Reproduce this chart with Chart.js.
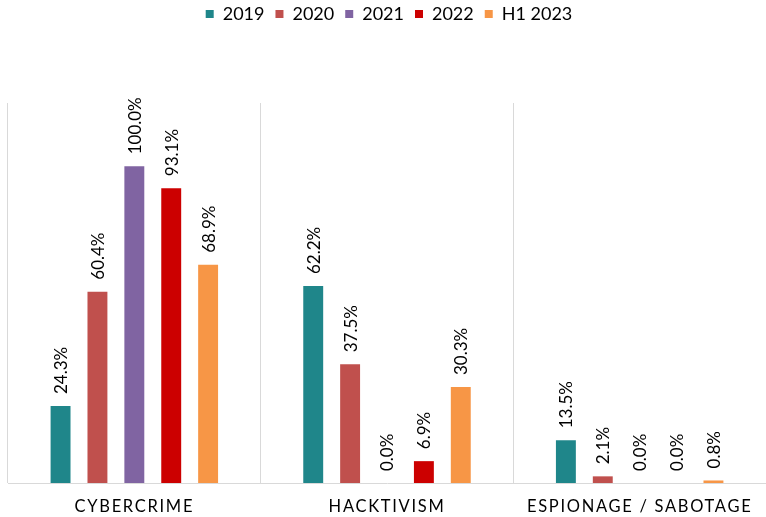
<!DOCTYPE html>
<html>
<head>
<meta charset="utf-8">
<script src="https://cdn.jsdelivr.net/npm/chart.js@4"></script>
<style>
  body { margin: 0; background: #fff; }
</style>
</head>
<body>
<canvas id="chart" width="766" height="517"></canvas>
<script>
const categories = ['CYBERCRIME', 'HACKTIVISM', 'ESPIONAGE / SABOTAGE'];
const seriesNames = ['2019', '2020', '2021', '2022', 'H1 2023'];
const values2019 = [24.3, 62.2, 13.5];
const values2020 = [60.4, 37.5, 2.1];
const values2021 = [100.0, 0.0, 0.0];
const values2022 = [93.1, 6.9, 0.0];
const valuesH12023 = [68.9, 30.3, 0.8];
const colors = ['#1f868a', '#c0504d', '#8064a2', '#cc0000', '#f79646'];

const allValues = [values2019, values2020, values2021, values2022, valuesH12023];
const FONT = 'Lato, "Open Sans", sans-serif';

// legend sits in a tall box so the plot starts lower
const legendSpace = {
  id: 'legendSpace',
  beforeInit(chart) {
    const fit = chart.legend.fit;
    chart.legend.fit = function () {
      fit.bind(chart.legend)();
      this.height = 109;
    };
  }
};

// rotated value labels above each bar
const valueLabels = {
  id: 'valueLabels',
  afterDatasetsDraw(chart) {
    const ctx = chart.ctx;
    ctx.save();
    ctx.font = '17px ' + FONT;
    ctx.fillStyle = '#000';
    ctx.textAlign = 'left';
    ctx.textBaseline = 'middle';
    chart.data.datasets.forEach((ds, i) => {
      chart.getDatasetMeta(i).data.forEach((bar, j) => {
        ctx.save();
        ctx.translate(bar.x + 1, bar.y - 12);
        ctx.rotate(-Math.PI / 2);
        ctx.fillText(ds.data[j].toFixed(1) + '%', 0, 0);
        ctx.restore();
      });
    });
    ctx.restore();
  }
};

// category names with letter spacing
const categoryLabels = {
  id: 'categoryLabels',
  afterDraw(chart) {
    const ctx = chart.ctx;
    const x = chart.scales.x;
    ctx.save();
    ctx.font = '16.5px ' + FONT;
    ctx.fillStyle = '#000';
    ctx.letterSpacing = '1.7px';
    ctx.textAlign = 'center';
    ctx.textBaseline = 'middle';
    categories.forEach((c, i) => {
      ctx.fillText(c, x.getPixelForValue(i), chart.chartArea.bottom + 24);
    });
    ctx.restore();
  }
};

new Chart(document.getElementById('chart'), {
  type: 'bar',
  data: {
    labels: categories,
    datasets: seriesNames.map((name, i) => ({
      label: name,
      data: allValues[i],
      backgroundColor: colors[i],
      barPercentage: 0.54,
      categoryPercentage: 0.73
    }))
  },
  options: {
    responsive: false,
    animation: false,
    layout: { padding: { left: 8, right: -4, top: -6, bottom: 34 } },
    plugins: {
      legend: {
        position: 'top',
        labels: {
          boxWidth: 8,
          boxHeight: 8,
          padding: 11,
          color: '#000',
          font: { family: FONT, size: 18 }
        }
      },
      tooltip: { enabled: false }
    },
    scales: {
      x: {
        offset: true,
        grid: { offset: true, color: '#d9d9d9', lineWidth: 1, drawTicks: false },
        border: { color: '#d9d9d9' },
        ticks: { display: false }
      },
      y: {
        display: false,
        min: 0,
        max: 120
      }
    }
  },
  plugins: [legendSpace, valueLabels, categoryLabels]
});
</script>
</body>
</html>
